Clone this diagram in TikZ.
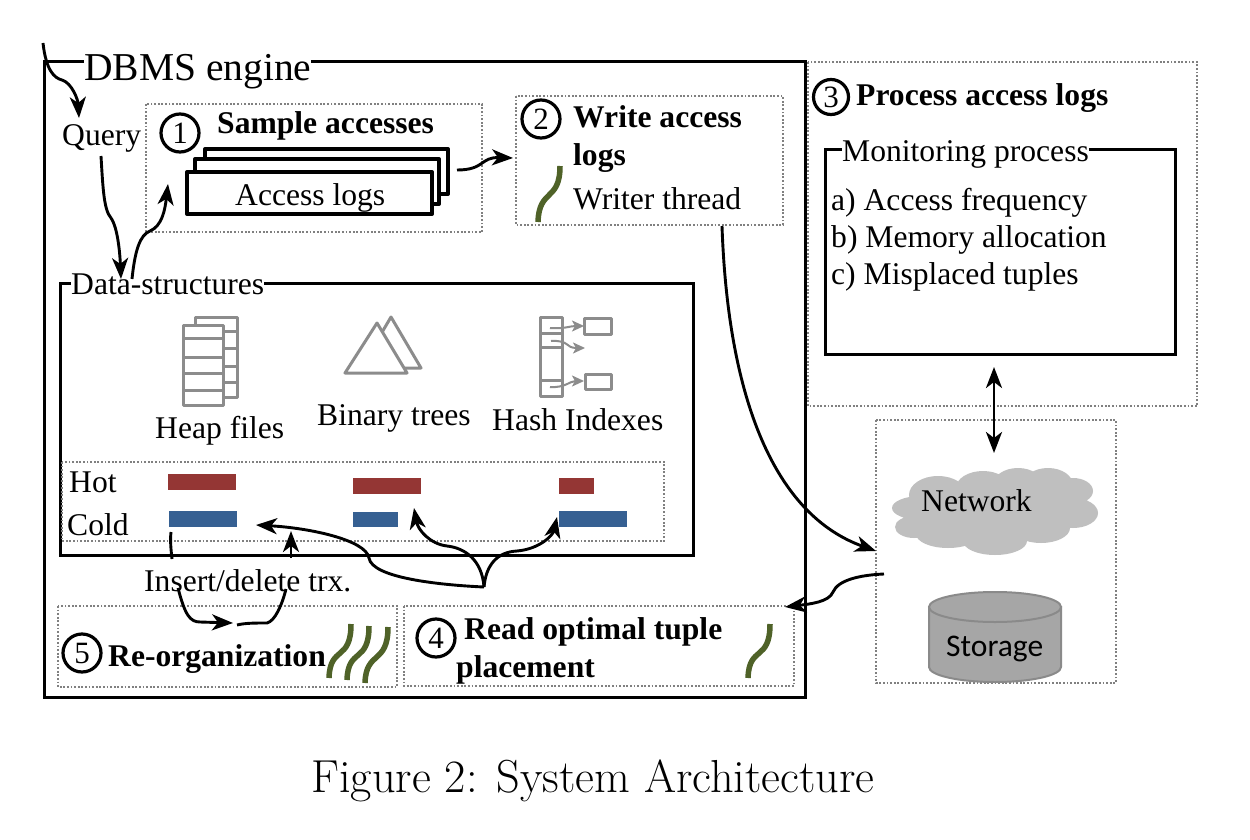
\documentclass[tikz,border=0pt]{standalone}
\usepackage{fontspec}
\usetikzlibrary{arrows.meta}
\newfontfamily\tnr{Liberation Serif}
\newfontfamily\carl{Carlito}
\definecolor{hotc}{HTML}{943634}
\definecolor{coldc}{HTML}{366092}
\definecolor{threadc}{HTML}{4F6228}
\definecolor{iconc}{HTML}{8C8C8C}
\definecolor{cloudc}{HTML}{BFBFBF}
\definecolor{cylc}{HTML}{A6A6A6}
\definecolor{cyld}{HTML}{8A8A8A}
\tikzset{
  tx/.style={anchor=base west,inner sep=0pt,font=\tnr\fontsize{31.6}{34}\selectfont},
  txb/.style={tx,font=\tnr\bfseries\fontsize{31.6}{34}\selectfont},
  gaplabel/.style={tx,fill=white},
  solidbox/.style={draw=black,line width=3pt},
  dotbox/.style={draw=gray,line width=1.8pt,dash pattern=on 1.8pt off 1.8pt},
  logbox/.style={draw=black,line width=4pt,fill=white,line join=round},
  num/.style={circle,draw=black,line width=3.2pt,minimum size=38pt,inner sep=0pt,font=\tnr\fontsize{31}{33}\selectfont},
  conn/.style={draw=black,line width=2.9pt,-{Stealth[length=21pt,width=16pt,inset=6pt]}},
  plainconn/.style={draw=black,line width=2.9pt},
  thread/.style={draw=threadc,line width=5.5pt},
  icon/.style={draw=iconc,line width=3pt,line join=round},
  iconarrow/.style={draw=iconc,line width=2pt,-{Stealth[length=12pt,width=11pt,inset=3pt]}},
}
\begin{document}
\begin{tikzpicture}[x=1pt,y=-1pt]
\useasboundingbox (0,0) rectangle (1250,840);
\fill[white] (0,0) rectangle (1250,840);
% outer boxes
\draw[solidbox] (44,62) rectangle (805,697);
\node[gaplabel,font=\tnr\fontsize{39.5}{42}\selectfont] (dbms) at (84,81) {DBMS engine};
\draw[dotbox] (808,62) rectangle (1197,406);
\draw[dotbox] (876,420) rectangle (1116,683);
\draw[solidbox] (825,150) rectangle (1175,354);
\node[gaplabel] (mon) at (842,161) {Monitoring process};
\node[tx] (ma) at (831,210) {a) Access frequency};
\node[tx] (mb) at (831,247) {b) Memory allocation};
\node[tx] (mc) at (831,284) {c) Misplaced tuples};
\node[num,minimum size=35pt] (n3) at (831,97) {3};
\node[txb] (t3) at (856,106) {Process access logs};
% sample accesses
\draw[dotbox] (146,104) rectangle (482,232);
\node[num] (n1) at (180,133) {1};
\node[txb] (t1) at (217,134) {Sample accesses};
\draw[logbox] (205,149) rectangle (448,194);
\draw[logbox] (195,159) rectangle (439,204);
\draw[logbox] (187,172) rectangle (432,214);
\node[tx] (logs) at (235,205) {Access logs};
% write access logs
\draw[dotbox] (516,96) rectangle (783,225);
\node[num] (n2) at (541,119) {2};
\node[txb] (t2) at (573,128) {Write access};
\node[txb] (t2b) at (573,165) {logs};
\node[tx] (writer) at (573,209) {Writer thread};
\draw[thread] (538,222) .. controls (539,188) and (560,202) .. (560,166);
\node[tx] (query) at (62,146) {Query};
% data structures
\draw[solidbox] (60,283) rectangle (693,555);
\node[gaplabel] (ds) at (71,294) {Data-structures};
\draw[icon,fill=white] (195,317) rectangle (237,397);
\foreach \yy in {331,348,366,382} \draw[icon] (195,\yy) -- (237,\yy);
\draw[icon,fill=white] (183,325) rectangle (223,405);
\foreach \yy in {338,357,373,390} \draw[icon] (183,\yy) -- (223,\yy);
\draw[icon,fill=white] (391,317) -- (421,368) -- (361,368) -- cycle;
\draw[icon,fill=white] (377,323) -- (407,373) -- (345,373) -- cycle;
\draw[icon] (540,317) rectangle (562,396);
\foreach \yy in {333,347,380} \draw[icon] (540,\yy) -- (562,\yy);
\draw[icon] (584,318) rectangle (611,334);
\draw[icon] (585,374) rectangle (611,389);
\coordinate (ha1) at (550,328); \coordinate (hb1) at (584,326);
\coordinate (ha2) at (551,341); \coordinate (hb2) at (585,348);
\coordinate (ha3) at (550,387); \coordinate (hb3) at (584,381);
\draw[iconarrow] (ha1) .. controls (565,329) and (570,326) .. (hb1);
\draw[iconarrow] (ha2) .. controls (570,340) and (565,348) .. (hb2);
\draw[iconarrow] (ha3) .. controls (565,388) and (570,381) .. (hb3);
\node[tx] (heap) at (155,438) {Heap files};
\node[tx] (bin) at (317,425) {Binary trees};
\node[tx] (hash) at (492,430) {Hash Indexes};
% hot cold
\draw[dotbox] (62,462) rectangle (664,541);
\node[tx] (hot) at (69,492) {Hot};
\node[tx] (cold) at (67,535) {Cold};
\fill[hotc] (168,474) rectangle (236,490);
\fill[hotc] (353,478) rectangle (421,494);
\fill[hotc] (559,478) rectangle (594,494);
\fill[coldc] (169,511) rectangle (237,527);
\fill[coldc] (353,512) rectangle (398,527);
\fill[coldc] (559,511) rectangle (627,527);
% bottom boxes
\draw[dotbox] (58,606) rectangle (397,687);
\draw[dotbox] (404,606) rectangle (794,686);
\node[num] (n5) at (82,653) {5};
\node[txb] (t5) at (108,666) {Re-organization};
\node[num] (n4) at (436,638) {4};
\node[txb] (t4) at (464,639) {Read optimal tuple};
\node[txb] (t4b) at (456,677) {placement};
\draw[thread] (329,678) .. controls (330,645) and (351,662) .. (351,624);
\draw[thread] (347,680) .. controls (348,647) and (369,664) .. (369,626);
\draw[thread] (365,683) .. controls (366,650) and (388,665) .. (388,627);
\draw[thread] (748,678) .. controls (749,645) and (770,662) .. (770,624);
% network cloud
\fill[cloudc] (921,508) ellipse[x radius=29,y radius=12]
  (938,495) ellipse[x radius=29,y radius=19]
  (983,488) ellipse[x radius=27,y radius=17]
  (1018,485) ellipse[x radius=25,y radius=17]
  (1048,485) ellipse[x radius=25,y radius=17]
  (1073,491) ellipse[x radius=20,y radius=13]
  (1073,513) ellipse[x radius=25,y radius=15]
  (1041,528) ellipse[x radius=29,y radius=15]
  (995,541) ellipse[x radius=32,y radius=14]
  (948,534) ellipse[x radius=32,y radius=14]
  (914,527) ellipse[x radius=19,y radius=11]
  (994,510) ellipse[x radius=70,y radius=28];
\node[tx] (net) at (921,511) {Network};
% storage
\draw[draw=cyld,fill=cylc,line width=2pt] (929,607) -- (929,667) arc[start angle=180,end angle=0,x radius=66,y radius=15] -- (1061,607) -- cycle;
\draw[draw=cyld,fill=cylc,line width=2pt] (995,607) ellipse[x radius=66,y radius=15];
\node[tx,font=\carl\fontsize{31.5}{34}\selectfont] (stor) at (946,656) {Storage};
\node[tx] (ins) at (144,591) {Insert/delete trx.};
% connectors
\coordinate (c0) at (43,43); \coordinate (c1) at (79,118);
\draw[conn] (c0) .. controls (46,70) and (54,78) .. (62,80) .. controls (72,83) and (78,100) .. (c1);
\coordinate (q0) at (101,156); \coordinate (q1) at (121,279);
\draw[conn] (q0) .. controls (103,190) and (104,210) .. (111,218) .. controls (118,228) and (120,255) .. (q1);
\coordinate (s0) at (132,279); \coordinate (s1) at (168,184);
\draw[conn] (s0) .. controls (135,250) and (140,235) .. (150,231) .. controls (162,226) and (165,210) .. (s1);
\coordinate (l0) at (457,170); \coordinate (l1) at (513,158);
\draw[conn] (l0) .. controls (485,170) and (480,157) .. (l1);
\coordinate (w0) at (722,226); \coordinate (w1) at (876,551);
\draw[conn] (w0) .. controls (728,400) and (775,515) .. (w1);
\coordinate (b0) at (994,367); \coordinate (b1) at (994,453);
\draw[conn,{Stealth[length=21pt,width=16pt,inset=6pt]}-{Stealth[length=21pt,width=16pt,inset=6pt]}] (b0) -- (b1);
\coordinate (r0) at (884,574); \coordinate (r1) at (785,607);
\draw[conn] (r0) .. controls (860,575) and (838,580) .. (833,592) .. controls (829,602) and (810,604) .. (r1);
\coordinate (src) at (484,587); \coordinate (t1a) at (414,508); \coordinate (t1b) at (557,517); \coordinate (t1c) at (256,525);
\draw[conn] (src) .. controls (482,560) and (465,548) .. (447,546) .. controls (430,544) and (418,530) .. (t1a);
\draw[conn] (src) .. controls (486,565) and (497,552) .. (517,551) .. controls (540,549) and (553,535) .. (t1b);
\draw[conn] (src) .. controls (440,585) and (372,578) .. (369,558) .. controls (366,540) and (310,528) .. (t1c);
\coordinate (i0) at (171,532); \coordinate (i1) at (172,559);
\draw[plainconn] (i0) .. controls (170,540) and (171,550) .. (i1);
\coordinate (i2) at (178,588); \coordinate (i3) at (233,623);
\draw[conn] (i2) .. controls (185,615) and (190,622) .. (200,622) -- (i3);
\coordinate (i4) at (237,625); \coordinate (i5) at (286,589);
\draw[plainconn] (i4) .. controls (245,623) and (255,623) .. (267,623) .. controls (275,621) and (282,605) .. (i5);
\coordinate (i6) at (291,558); \coordinate (i7) at (291,531);
\draw[conn] (i6) -- (i7);
% caption
\node[anchor=base,inner sep=0pt,font=\fontsize{46.3}{48}\selectfont] (cap) at (593,792) {Figure 2: System Architecture};
\end{tikzpicture}
\end{document}
